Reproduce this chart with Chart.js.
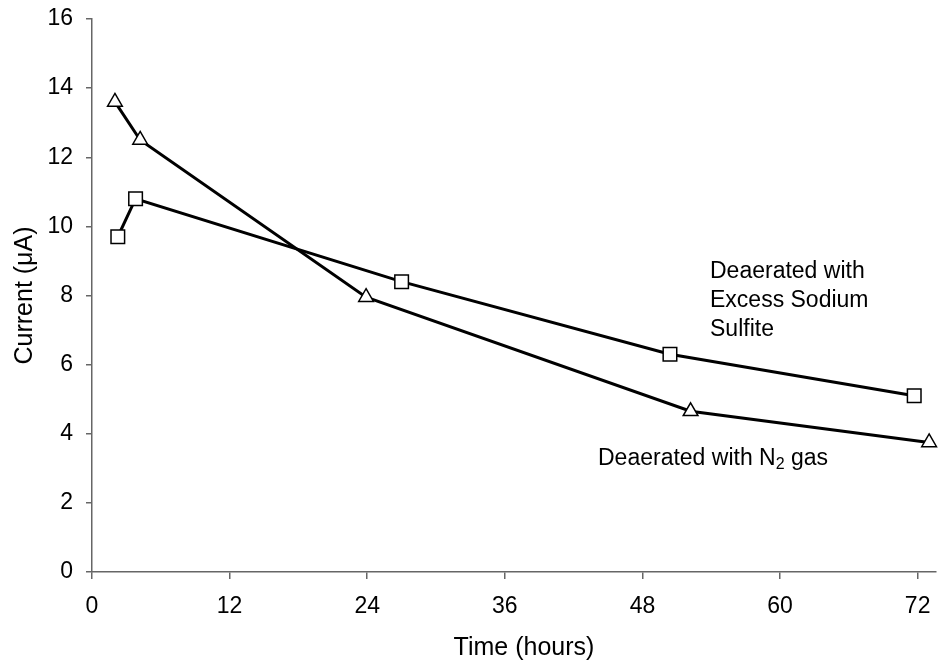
<!DOCTYPE html>
<html>
<head>
<meta charset="utf-8">
<script src="https://cdn.jsdelivr.net/npm/chart.js@4.4.0/dist/chart.umd.min.js"></script>
<style>
  html, body { margin: 0; padding: 0; background: #fff; }
</style>
</head>
<body>
<canvas id="chart" width="939" height="666"></canvas>
<script>
// values
const n2Hours = [2.0, 4.2, 23.9, 52.2, 73.0];
const n2Current = [13.6, 12.5, 7.95, 4.65, 3.75];
const sulfiteHours = [2.25, 3.8, 27.0, 50.4, 71.7];
const sulfiteCurrent = [9.7, 10.8, 8.4, 6.3, 5.1];
const xTicks = [0, 12, 24, 36, 48, 60, 72];
const yTicks = [0, 2, 4, 6, 8, 10, 12, 14, 16];

const FONT = '"Liberation Sans", Arial, sans-serif';
const AXIS = '#666';

function toPoints(xs, ys) {
  return xs.map((x, i) => ({x: x, y: ys[i]}));
}

// text labels next to the curves + x axis title
const curveLabels = {
  id: 'curveLabels',
  afterDatasetsDraw(chart) {
    const ctx = chart.ctx;
    ctx.save();
    ctx.fillStyle = '#000';
    ctx.textBaseline = 'alphabetic';
    ctx.textAlign = 'left';
    ctx.font = '23px ' + FONT;
    ['Deaerated with', 'Excess Sodium', 'Sulfite'].forEach(function(t, i) {
      ctx.fillText(t, 710, 278 + i * 29);
    });
    let x = 598, y = 465;
    ctx.fillText('Deaerated with N', x, y);
    x += ctx.measureText('Deaerated with N').width;
    ctx.font = '16px ' + FONT;
    ctx.fillText('2', x, y + 4);
    x += ctx.measureText('2').width;
    ctx.font = '23px ' + FONT;
    ctx.fillText(' gas', x, y);

    ctx.textAlign = 'center';
    ctx.textBaseline = 'middle';
    ctx.font = '25px ' + FONT;
    ctx.fillText('Time (hours)', 524, 648);
    ctx.restore();
  }
};

new Chart(document.getElementById('chart'), {
  type: 'line',
  data: {
    datasets: [{
      label: 'Deaerated with N2 gas',
      data: toPoints(n2Hours, n2Current),
      borderColor: '#000',
      borderWidth: 3,
      pointStyle: 'triangle',
      pointRadius: 8.5,
      pointBackgroundColor: '#fff',
      pointBorderColor: '#000',
      pointBorderWidth: 1.5,
      tension: 0
    }, {
      label: 'Deaerated with Excess Sodium Sulfite',
      data: toPoints(sulfiteHours, sulfiteCurrent),
      borderColor: '#000',
      borderWidth: 3,
      pointStyle: 'rect',
      pointRadius: 9.6,
      pointBackgroundColor: '#fff',
      pointBorderColor: '#000',
      pointBorderWidth: 1.5,
      tension: 0
    }]
  },
  options: {
    responsive: false,
    animation: false,
    clip: false,
    layout: {autoPadding: false, padding: {top: 19, right: 3, bottom: 0, left: 0}},
    plugins: {legend: {display: false}, tooltip: {enabled: false}},
    scales: {
      x: {
        type: 'linear',
        min: 0,
        max: 73.6,
        afterBuildTicks: function(scale) { scale.ticks = xTicks.map(v => ({value: v})); },
        afterFit: function(scale) {
          scale.height = 94;
          scale.paddingLeft = 0;
          scale.paddingRight = 0;
        },
        ticks: {color: '#000', font: {family: FONT, size: 23}, padding: 14, maxRotation: 0},
        grid: {drawOnChartArea: false, drawTicks: true, tickLength: 7, color: AXIS, lineWidth: 1.5},
        border: {display: true, color: AXIS, width: 1.5}
      },
      y: {
        min: 0,
        max: 16,
        afterBuildTicks: function(scale) { scale.ticks = yTicks.map(v => ({value: v})); },
        afterFit: function(scale) {
          scale.width = 92;
          scale.paddingTop = 0;
          scale.paddingBottom = 0;
        },
        ticks: {color: '#000', font: {family: FONT, size: 23}, padding: 13},
        grid: {drawOnChartArea: false, drawTicks: true, tickLength: 6, color: AXIS, lineWidth: 1.5},
        border: {display: true, color: AXIS, width: 1.5},
        title: {display: true, text: 'Current (\u03bcA)', color: '#000', font: {family: FONT, size: 25}, padding: {top: 10, bottom: 0}}
      }
    }
  },
  plugins: [curveLabels]
});
</script>
</body>
</html>
